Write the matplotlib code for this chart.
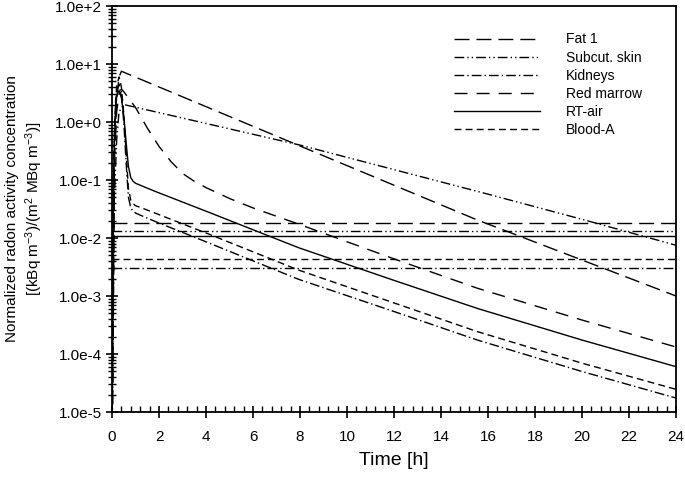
import numpy as np
import matplotlib
matplotlib.use("Agg")
import matplotlib.pyplot as plt
from matplotlib.ticker import FuncFormatter, LogLocator, MultipleLocator, NullFormatter

plt.rcParams['font.family'] = ['Liberation Sans', 'DejaVu Sans']
plt.rcParams['mathtext.default'] = 'regular'

# curves (time in h, normalized concentration)
t_fat = [0, 0.1, 0.2, 0.3, 0.4, 8, 15.55, 24]
v_fat = [1e-6, 0.3, 2.5, 6.0, 7.5, 0.386, 0.0204, 1.0e-3]

t_skin = [0, 0.1, 0.2, 0.3, 0.5, 8, 16, 20, 24]
v_skin = [1e-6, 0.05, 0.5, 1.5, 2.0, 0.40, 0.057, 0.021, 0.0075]

t_kid = [0, 0.05, 0.1, 0.15, 0.2, 0.3, 0.4, 0.5, 0.6, 0.7, 0.8, 0.9, 1.0, 1.18, 1.82, 4, 7.94, 12, 15.55, 20, 24]
v_kid = [1e-6, 0.04, 0.5, 1.8, 3.4, 4.5, 3.0, 1.0, 0.2, 0.05, 0.033, 0.029, 0.027, 0.025, 0.0194,
         0.0086, 0.00194, 5.4e-4, 1.74e-4, 4.99e-5, 1.74e-5]

t_marrow = [0, 0.1, 0.2, 0.3, 0.45, 1.0, 1.5, 2.0, 2.5, 3.0, 3.5, 4.0, 5.0, 6.0, 8.0, 12, 15.55, 20, 24]
v_marrow = [1e-6, 0.2, 1.5, 3.0, 3.55, 1.78, 0.79, 0.38, 0.21, 0.13, 0.095, 0.074, 0.048, 0.033,
            0.017, 0.00437, 0.00136, 3.85e-4, 1.32e-4]

t_air = [0, 0.05, 0.1, 0.15, 0.2, 0.3, 0.4, 0.5, 0.6, 0.7, 0.8, 0.9, 1.0, 1.18, 1.82, 4, 7.94, 12, 15.55, 20, 24]
v_air = [1e-6, 0.03, 0.4, 1.5, 2.8, 3.5, 2.6, 1.3, 0.45, 0.17, 0.11, 0.095, 0.088, 0.082, 0.064,
         0.029, 0.0068, 0.00186, 6.1e-4, 1.74e-4, 6.05e-5]

t_blood = [0, 0.05, 0.1, 0.15, 0.2, 0.3, 0.4, 0.5, 0.6, 0.7, 0.8, 0.9, 1.0, 1.18, 1.82, 4, 7.94, 12, 15.55, 20, 24]
v_blood = [1e-6, 0.05, 0.6, 2.2, 4.2, 6.0, 4.0, 1.4, 0.3, 0.07, 0.045, 0.039, 0.036, 0.034, 0.027,
           0.0122, 0.0028, 7.6e-4, 2.43e-4, 6.95e-5, 2.46e-5]

# constant levels (horizontal lines)
h_fat = 0.018
h_skin = 0.0134
h_kid = 0.0031
h_air = 0.0108
h_blood = 0.0044

labels = ["Fat 1", "Subcut. skin", "Kidneys", "Red marrow", "RT-air", "Blood-A"]

ls_fat = (0, (10.8, 5))
ls_skin = (0, (7, 2.2, 1, 2.2, 1, 2.2))
ls_kid = (0, (7, 2.2, 1, 2.2))
ls_marrow = (0, (9.4, 6.5))
ls_air = '-'
ls_blood = (0, (5, 3))

fig = plt.figure(figsize=(6.85, 4.79), dpi=100)
ax = fig.add_axes([112/685, 67/479, 564/685, 406/479])

lw = 1.0
ax.plot(t_fat, v_fat, color='black', lw=lw, ls=ls_fat, label=labels[0])
ax.plot(t_skin, v_skin, color='black', lw=lw, ls=ls_skin, label=labels[1])
ax.plot(t_kid, v_kid, color='black', lw=lw, ls=ls_kid, label=labels[2])
ax.plot(t_marrow, v_marrow, color='black', lw=lw, ls=ls_marrow, label=labels[3])
ax.plot(t_air, v_air, color='black', lw=lw, ls=ls_air, label=labels[4])
ax.plot(t_blood, v_blood, color='black', lw=lw, ls=ls_blood, label=labels[5])

ax.axhline(h_fat, color='black', lw=lw, ls=ls_fat)
ax.axhline(h_skin, color='black', lw=lw, ls=ls_skin)
ax.axhline(h_air, color='black', lw=lw, ls=ls_air)
ax.axhline(h_blood, color='black', lw=lw, ls=ls_blood)
ax.axhline(h_kid, color='black', lw=lw, ls=ls_kid)

ax.set_yscale('log')
ax.set_xlim(0, 24)
ax.set_ylim(1e-5, 1e2)

ax.xaxis.set_major_locator(MultipleLocator(2))
ax.xaxis.set_minor_locator(MultipleLocator(0.4))
ax.yaxis.set_major_locator(LogLocator(base=10, numticks=20))
ax.yaxis.set_minor_locator(LogLocator(base=10, subs=np.arange(2, 10), numticks=20))
ax.yaxis.set_minor_formatter(NullFormatter())
ax.yaxis.set_major_formatter(FuncFormatter(lambda v, p: "1.0e%+d" % int(round(np.log10(v)))))

ax.tick_params(axis='both', which='major', direction='inout', length=8, width=1.2, labelsize=11)
ax.tick_params(axis='x', which='major', pad=9)
ax.tick_params(axis='y', which='major', pad=3)
ax.tick_params(axis='y', which='minor', direction='inout', length=6, width=1.0)
ax.tick_params(axis='x', which='minor', direction='in', length=4, width=1.0)

for s in ax.spines.values():
    s.set_linewidth(1.3)

ax.set_xlabel("Time [h]", fontsize=14, labelpad=6)
ax.set_ylabel("Normalized radon activity concentration\n[(kBq m$^{-3}$)/(m$^{2}$ MBq m$^{-3}$)]",
              fontsize=11, linespacing=1.3)
ax.yaxis.set_label_coords(-0.118, 0.5)

ax.legend(loc='upper left', bbox_to_anchor=(0.606, 0.935), frameon=False, fontsize=10,
          handlelength=6.2, handletextpad=1.9, labelspacing=0.3, borderpad=0, borderaxespad=0)

fig.savefig("out.png", dpi=100)
